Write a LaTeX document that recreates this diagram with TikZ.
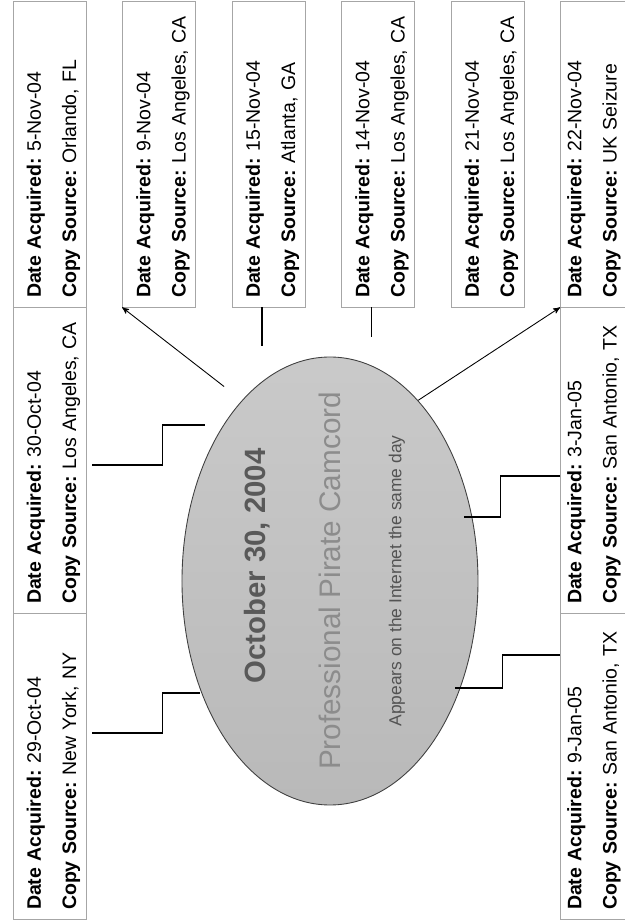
\documentclass[tikz,border=0pt]{standalone}
\usepackage{fontspec}
\setmainfont{Liberation Sans}
\usetikzlibrary{arrows,shapes.geometric,positioning}

\begin{document}
\begin{tikzpicture}[rotate=90,transform shape,>=stealth',node distance=6.12cm,
		info box/.style={rectangle,draw=gray!70,line width=0.4pt,minimum height=1.46cm,text width=5.76cm,
			inner xsep=0.18cm,inner ysep=0pt,text height=0.56cm,text depth=0.9cm,align=left,
			font=\fontsize{11.1}{20}\selectfont\frenchspacing},
		low box/.style={info box,text height=0.42cm,text depth=1.04cm},
		cam node/.style={ellipse,draw=black!75,line width=0.5pt,minimum width=8.96cm,minimum height=5.92cm,
			inner sep=0pt,top color=gray!42,bottom color=gray!55},
		link/.style={black,line width=0.7pt},
		arrow link/.style={->,black,line width=0.5pt}]
		
		\useasboundingbox (0,0) rectangle (18.46,12.5);
		\clip (0,0) rectangle (18.46,12.5);
		
		% top row
		\node[info box] (oct29) at (3.14,11.51) {\textbf{Date Acquired:} 29-Oct-04\\\textbf{Copy Source:} New York, NY};
		\node[info box] (oct30) [right of=oct29] {\textbf{Date Acquired:} 30-Oct-04\\\textbf{Copy Source:} Los Angeles, CA};
		\node[info box] (nov5) [right of=oct30] {\textbf{Date Acquired:} 5-Nov-04\\\textbf{Copy Source:} Orlando, FL};
		
		% right column
		\node[info box] (nov9) [below of=nov5, node distance=2.19cm] {\textbf{Date Acquired:} 9-Nov-04\\\textbf{Copy Source:} Los Angeles, CA};
		\node[info box] (nov15) [below of=nov9, node distance=2.19cm] {\textbf{Date Acquired:} 15-Nov-04\\\textbf{Copy Source:} Atlanta, GA};
		\node[info box] (nov14) [below of=nov15, node distance=2.19cm] {\textbf{Date Acquired:} 14-Nov-04\\\textbf{Copy Source:} Los Angeles, CA};
		\node[info box] (nov21) [below of=nov14, node distance=2.19cm] {\textbf{Date Acquired:} 21-Nov-04\\\textbf{Copy Source:} Los Angeles, CA};
		
		% bottom row
		\node[low box] (nov22) [below of=nov21, node distance=2.19cm] {\textbf{Date Acquired:} 22-Nov-04\\\textbf{Copy Source:} UK Seizure};
		\node[low box] (jan3) [left of=nov22] {\textbf{Date Acquired:} 3-Jan-05\\\textbf{Copy Source:} San Antonio, TX};
		\node[low box] (jan9) [left of=jan3] {\textbf{Date Acquired:} 9-Jan-05\\\textbf{Copy Source:} San Antonio, TX};
		
		% camcord
		\node[cam node] (cam) at (6.84,5.9) {};
		\node[font=\fontsize{16.7}{20}\selectfont\bfseries,text=gray!70!black] (date) [above of=cam, node distance=1.46cm, xshift=0.3cm] {October 30, 2004};
		\node[font=\fontsize{16.9}{20}\selectfont,text=gray!90] (title) at (cam) {Professional Pirate Camcord};
		\node[font=\fontsize{9.9}{12}\selectfont,text=gray!65!black] (same) [below of=cam, node distance=1.34cm] {Appears on the Internet the same day};
		
		\path[arrow link]
		(cam.26) edge [shorten <=0.45cm] (nov9.north west)
		(cam.-26) edge (nov22.north west)
		;
		
		\draw[link] ([yshift=0.13cm]nov15.west) -- ++(-0.78,0);
		\draw[link] ([yshift=0.13cm]nov14.west) -- ++(-0.6,0);
		\draw[link] ([xshift=0.66cm,yshift=-0.12cm]oct29.south) -- ++(0,-1.4) -- ++(0.8,0) -- ++(0,-0.76);
		\draw[link] ([xshift=-0.1cm,yshift=-0.12cm]oct30.south) -- ++(0,-1.4) -- ++(0.8,0) -- ++(0,-0.86);
		\draw[link] ([xshift=-0.32cm]jan3.north) -- ++(0,1.2) -- ++(-0.82,0) -- ++(0,0.72);
		\draw[link] ([xshift=2.22cm]jan9.north) -- ++(0,1.16) -- ++(-0.66,0) -- ++(0,0.95);
\end{tikzpicture}
\end{document}
